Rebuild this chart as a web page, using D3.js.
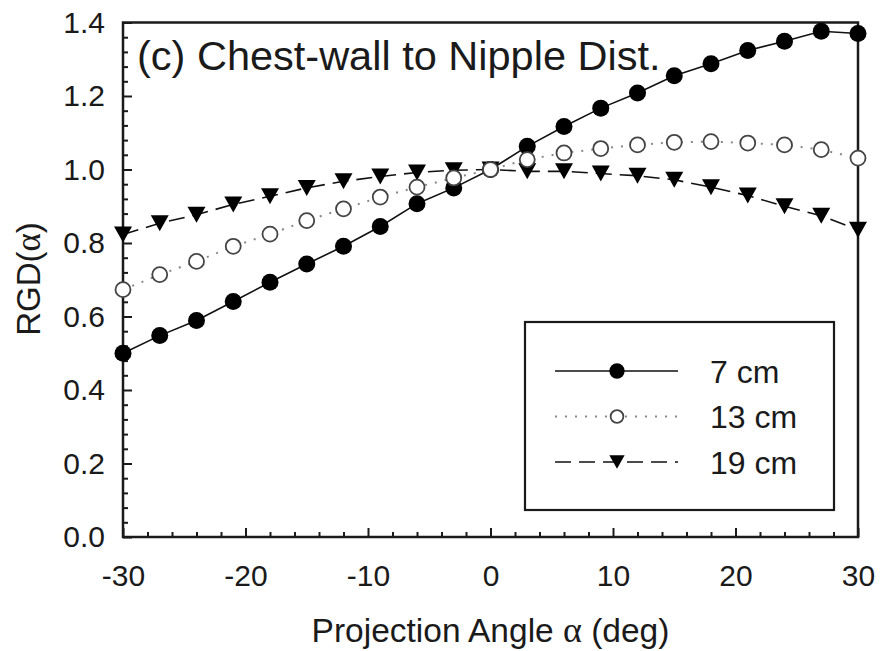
<!DOCTYPE html>
<html>
<head>
<meta charset="utf-8">
<script src="https://cdn.jsdelivr.net/npm/d3@7/dist/d3.min.js"></script>
<style>
  html, body { margin: 0; padding: 0; background: #fff; }
  svg text { font-family: "Liberation Sans", Arial, sans-serif; fill: #1a1a1a; }
</style>
</head>
<body>
<svg id="chart" width="881" height="651"></svg>
<script>
// Projection angles (degrees)
const angles = [-30, -27, -24, -21, -18, -15, -12, -9, -6, -3, 0, 3, 6, 9, 12, 15, 18, 21, 24, 27, 30];

// RGD(alpha) for each chest-wall to nipple distance
const rgd7cm  = [0.500, 0.548, 0.589, 0.641, 0.693, 0.743, 0.791, 0.845, 0.907, 0.950, 1.000,
                 1.063, 1.117, 1.167, 1.208, 1.255, 1.288, 1.324, 1.349, 1.376, 1.370];
const rgd13cm = [0.673, 0.714, 0.750, 0.791, 0.824, 0.861, 0.893, 0.925, 0.952, 0.977, 1.000,
                 1.027, 1.045, 1.057, 1.067, 1.074, 1.076, 1.072, 1.067, 1.054, 1.031];
const rgd19cm = [0.823, 0.854, 0.877, 0.905, 0.927, 0.950, 0.968, 0.981, 0.992, 0.998, 1.000,
                 0.995, 0.995, 0.989, 0.983, 0.972, 0.952, 0.929, 0.900, 0.874, 0.836];

const seriesNames = ["7 cm", "13 cm", "19 cm"];

const xMajorTicks = [-30, -20, -10, 0, 10, 20, 30];
const yMajorTicks = [0.0, 0.2, 0.4, 0.6, 0.8, 1.0, 1.2, 1.4];

const svg = d3.select("#chart");
const plot = { left: 123, right: 858, top: 22.5, bottom: 537 };

const x = d3.scaleLinear().domain([-30, 30]).range([plot.left, plot.right]);
const y = d3.scaleLinear().domain([0, 1.4]).range([plot.bottom, plot.top]);

const ink = "#1a1a1a";

// Minor ticks (inward)
const xMinor = d3.range(-30, 30.001, 2).filter(v => v % 10 !== 0);
const yMinor = d3.range(0, 1.4001, 0.04).map(v => +v.toFixed(2)).filter(v => Math.abs(v * 5 - Math.round(v * 5)) > 1e-6);

// Tick labels use a plain hyphen for negatives
const fmtX = d => String(d);
const fmtY = d => d.toFixed(1);

const gx = svg.append("g").attr("transform", `translate(0,${plot.bottom})`);
gx.call(d3.axisBottom(x).tickValues(xMinor).tickSize(-5).tickFormat(""));
gx.select(".domain").remove();
const gxMajor = svg.append("g").attr("transform", `translate(0,${plot.bottom})`);
gxMajor.call(d3.axisBottom(x).tickValues(xMajorTicks).tickSize(-9).tickPadding(20).tickFormat(fmtX));
gxMajor.select(".domain").remove();

const gy = svg.append("g").attr("transform", `translate(${plot.left},0)`);
gy.call(d3.axisLeft(y).tickValues(yMinor).tickSize(-5).tickFormat(""));
gy.select(".domain").remove();
const gyMajor = svg.append("g").attr("transform", `translate(${plot.left},0)`);
gyMajor.call(d3.axisLeft(y).tickValues(yMajorTicks).tickSize(-9).tickPadding(18).tickFormat(fmtY));
gyMajor.select(".domain").remove();

svg.selectAll(".tick line").attr("stroke", ink).attr("stroke-width", 2);
svg.selectAll(".tick text").attr("font-size", 30).attr("fill", ink)
   .attr("font-family", "'Liberation Sans', Arial, sans-serif");
gxMajor.selectAll(".tick text").attr("dy", "0.71em").attr("y", 28);

// Frame
svg.append("rect")
  .attr("x", plot.left).attr("y", plot.top)
  .attr("width", plot.right - plot.left).attr("height", plot.bottom - plot.top)
  .attr("fill", "none").attr("stroke", ink).attr("stroke-width", 2.5);

// Series styles
const styles = [
  { name: seriesNames[0], values: rgd7cm,  stroke: "#111", dash: null,   width: 1.6, marker: "filled" },
  { name: seriesNames[1], values: rgd13cm, stroke: "#888", dash: "2,8",  width: 2,   marker: "open" },
  { name: seriesNames[2], values: rgd19cm, stroke: "#111", dash: "16,8", width: 1.6, marker: "tri" }
];

const line = d3.line().x(d => x(d[0])).y(d => y(d[1]));

function drawMarker(g, type, cx, cy, scale) {
  const s = scale || 1;
  if (type === "filled") {
    g.append("circle").attr("cx", cx).attr("cy", cy).attr("r", 8.5 * s).attr("fill", "#000");
  } else if (type === "open") {
    g.append("circle").attr("cx", cx).attr("cy", cy).attr("r", 7.5 * s)
      .attr("fill", "#fff").attr("stroke", "#444").attr("stroke-width", 1.8);
  } else {
    const w = 9 * s, h = 8 * s;
    g.append("path")
      .attr("d", `M${cx - w},${cy - h}L${cx + w},${cy - h}L${cx},${cy + h}Z`)
      .attr("fill", "#000");
  }
}

// Lines first, then markers (draw order 7, 19, 13 for overlaps)
const drawOrder = [0, 2, 1];
drawOrder.forEach(i => {
  const s = styles[i];
  const pts = angles.map((a, k) => [a, s.values[k]]);
  svg.append("path").attr("d", line(pts)).attr("fill", "none")
    .attr("stroke", s.stroke).attr("stroke-width", s.width)
    .attr("stroke-dasharray", s.dash);
});
drawOrder.forEach(i => {
  const s = styles[i];
  const g = svg.append("g");
  angles.forEach((a, k) => drawMarker(g, s.marker, x(a), y(s.values[k])));
});

// Panel title
svg.append("text").attr("x", 137).attr("y", 70).attr("font-size", 41.5)
  .text("(c) Chest-wall to Nipple Dist.");

// Axis titles
const xt = svg.append("text").attr("x", (plot.left + plot.right) / 2).attr("y", 642)
  .attr("text-anchor", "middle").attr("font-size", 33.5);
xt.append("tspan").text("Projection Angle ");
xt.append("tspan").attr("font-family", "'Liberation Serif', serif").attr("font-size", 36).text("α");
xt.append("tspan").text(" (deg)");

const yt = svg.append("text").attr("transform", "translate(40,279) rotate(-90)")
  .attr("text-anchor", "middle").attr("font-size", 33);
yt.append("tspan").text("RGD(");
yt.append("tspan").attr("font-family", "'Liberation Serif', serif").attr("font-size", 35).text("α");
yt.append("tspan").text(")");

// Legend
const legend = svg.append("g");
legend.append("rect").attr("x", 525).attr("y", 322).attr("width", 309).attr("height", 188)
  .attr("fill", "#fff").attr("stroke", ink).attr("stroke-width", 2.2);
const rowY = [371, 416.5, 462];
styles.forEach((s, i) => {
  legend.append("line").attr("x1", 555).attr("x2", 678).attr("y1", rowY[i]).attr("y2", rowY[i])
    .attr("stroke", s.stroke).attr("stroke-width", s.width)
    .attr("stroke-dasharray", s.dash);
  drawMarker(legend, s.marker, 617, rowY[i], i === 0 ? 0.9 : 0.85);
  legend.append("text").attr("x", 710).attr("y", rowY[i]).attr("dy", "0.36em")
    .attr("font-size", 32).text(s.name);
});
</script>
</body>
</html>
